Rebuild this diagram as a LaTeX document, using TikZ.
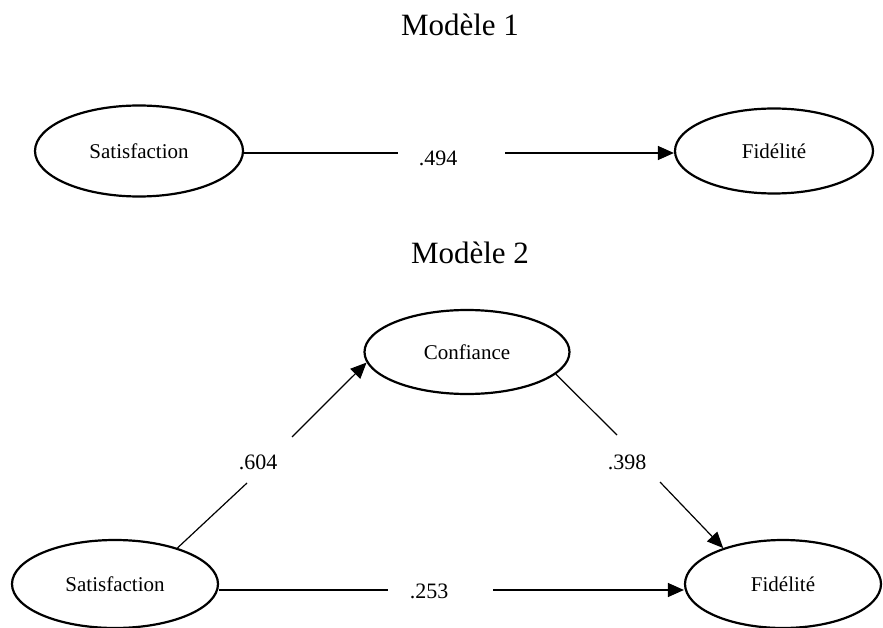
\documentclass[tikz,border=0pt]{standalone}
\usepackage{fontspec}
\setmainfont{Liberation Serif}
\usetikzlibrary{shapes.geometric,arrows.meta}
\begin{document}
\begin{tikzpicture}[x=1pt,y=-1pt,
 ell/.style={draw, line width=2.2pt, ellipse, inner sep=0pt, font=\fontsize{21}{25}\selectfont},
 num/.style={font=\fontsize{22}{26}\selectfont, inner sep=0pt},
 ttl/.style={font=\fontsize{31}{36}\selectfont, inner sep=0pt},
 conn/.style={line width=1.2pt},
 arr/.style={conn, -{Triangle[length=16pt,width=14pt]}}]
\useasboundingbox (0,0) rectangle (883,628);
\fill[white] (0,0) rectangle (883,628);

\node[ttl] (t1) at (460,25) {Modèle 1};
\node[ttl] (t2) at (470,253) {Modèle 2};

\node[ell, minimum width=208, minimum height=91] (s1) at (139,151) {Satisfaction};
\node[ell, minimum width=198, minimum height=85] (f1) at (774,151) {Fidélité};
\node[ell, minimum width=205, minimum height=84] (c2) at (467,352) {Confiance};
\node[ell, minimum width=206, minimum height=88] (s2) at (115,584) {Satisfaction};
\node[ell, minimum width=196, minimum height=88] (f2) at (783,584) {Fidélité};

\node[num] (n1) at (438,158) {.494};
\node[num] (n2) at (258,462) {.604};
\node[num] (n3) at (627,462) {.398};
\node[num] (n4) at (429,591) {.253};

\coordinate (a1) at (398,153);
\coordinate (b1) at (505,153);
\draw[conn] (s1.east |- a1) -- (a1);
\draw[arr] (b1) -- (f1.west |- b1);

\coordinate (p1) at (247,483);
\coordinate (p2) at (292,437);
\draw[conn] (s2.30) -- (p1);
\draw[arr] (p2) -- (c2.186);

\coordinate (q1) at (617,435);
\coordinate (q2) at (660,482);
\draw[conn] (c2.-14) -- (q1);
\draw[arr] (q2) -- (f2.149);

\coordinate (r1) at (388,590);
\coordinate (r2) at (493,590);
\draw[conn] (s2.east |- r1) -- (r1);
\draw[arr] (r2) -- (f2.west |- r2);
\end{tikzpicture}
\end{document}
